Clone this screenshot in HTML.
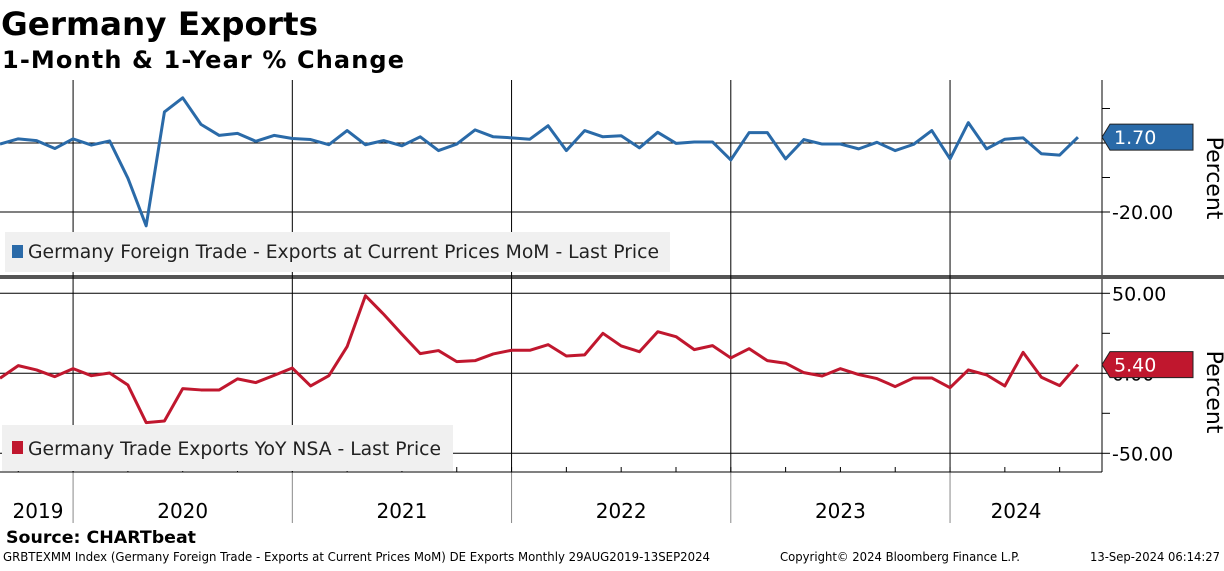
<!DOCTYPE html>
<html><head><meta charset="utf-8"><style>
body{margin:0;background:#fff;width:1224px;height:566px;overflow:hidden;font-family:"Liberation Sans",sans-serif}
svg text{font-family:"DejaVu Sans","Liberation Sans",sans-serif}
</style></head><body>
<svg id="c" width="1224" height="566" xmlns="http://www.w3.org/2000/svg">
<text x="1" y="35" font-size="32" font-weight="bold" fill="#000" textLength="317" lengthAdjust="spacingAndGlyphs">Germany Exports</text>
<text x="2" y="68" font-size="24" font-weight="bold" fill="#000" textLength="402" lengthAdjust="spacing">1-Month &amp; 1-Year % Change</text>
<rect x="0" y="275" width="1224" height="4" fill="#555"/>
<g id="grid"></g>
<rect x="5" y="232" width="665" height="40" fill="#f0f0f0"/>
<rect x="12" y="245" width="11" height="13" fill="#2a6aa8"/>
<text x="28" y="258" font-size="19" fill="#222" textLength="631" lengthAdjust="spacingAndGlyphs">Germany Foreign Trade - Exports at Current Prices MoM - Last Price</text>
<rect x="2" y="425" width="451" height="46" fill="#f0f0f0"/>
<rect x="12" y="441" width="11" height="13" fill="#c0172e"/>
<text x="28" y="455" font-size="19" fill="#222" textLength="413" lengthAdjust="spacingAndGlyphs">Germany Trade Exports YoY NSA - Last Price</text>
<g id="marks"></g>
<text x="6" y="543" font-size="17" font-weight="bold" fill="#000" textLength="190" lengthAdjust="spacingAndGlyphs">Source: CHARTbeat</text>
<text x="3" y="561" font-size="12" fill="#000" textLength="707" lengthAdjust="spacingAndGlyphs">GRBTEXMM Index (Germany Foreign Trade - Exports at Current Prices MoM) DE Exports  Monthly 29AUG2019-13SEP2024</text>
<text x="780" y="561" font-size="12" fill="#000" textLength="240" lengthAdjust="spacingAndGlyphs">Copyright© 2024 Bloomberg Finance L.P.</text>
<text x="1090" y="561" font-size="12" fill="#000" textLength="130" lengthAdjust="spacingAndGlyphs">13-Sep-2024 06:14:27</text>
</svg>
<script>
const momValues=[-0.3,1.2,0.7,-1.6,1.2,-0.6,0.6,-10.2,-24,9.0,13.1,5.4,2.2,2.8,0.5,2.2,1.3,1.0,-0.5,3.6,-0.5,0.7,-0.8,1.8,-2.2,-0.3,3.8,1.8,1.5,1.1,5.0,-2.2,3.6,1.8,2.1,-1.4,3.1,-0.1,0.3,0.3,-4.9,3.0,3.0,-4.6,1.0,-0.3,-0.3,-1.7,0.2,-2.2,-0.4,3.6,-4.6,5.9,-1.7,1.1,1.5,-3.1,-3.5,1.7];
const yoyValues=[-3.1,4.8,2.1,-2.1,2.9,-1.5,0.2,-7.3,-30.8,-29.8,-9.6,-10.4,-10.4,-3.5,-5.8,-1.3,3.3,-7.9,-1.5,16.7,48.5,36.9,24.4,12.3,14.2,7.3,7.9,12.1,14.4,14.4,17.9,10.8,11.5,25,17.1,13.5,26,22.9,14.8,17.3,9.6,15.4,7.9,6.3,0.4,-1.7,2.9,-0.8,-3.3,-8.3,-2.9,-2.9,-9.0,2.1,-1.0,-7.9,13.1,-2.5,-7.7,5.4];
const years=["2019","2020","2021","2022","2023","2024"];
const yearStartIdx=[4,16,28,40,52];
const topTicks=[10,0,-10,-20];
const topTickLabels=["","","","-20.00"];
const botTicks=[50,25,0,-25,-50];
const botTickLabels=["50.00","","0.00","","-50.00"];
const momLast="1.70", yoyLast="5.40";

const NS="http://www.w3.org/2000/svg";
const X0=0, DX=18.27, RIGHT=1102;
const x=i=>X0+i*DX;
const yTop=v=>143-v*3.45;
const yBot=v=>373.3-v*1.6;
const grid=document.getElementById('grid'), marks=document.getElementById('marks');
function mk(tag,attrs,parent){const e=document.createElementNS(NS,tag);for(const k in attrs)e.setAttribute(k,attrs[k]);parent.appendChild(e);return e;}

yearStartIdx.forEach(i=>{
  const l=mk('line',{x1:x(i),x2:x(i),y1:80,y2:472,stroke:'#000','stroke-width':1},grid);
  
  
  const l2=mk('line',{x1:x(i),x2:x(i),y1:472,y2:523,stroke:'#888','stroke-width':1},grid);
  
  
});
[0,-20].forEach(v=>{const l=mk('line',{x1:0,x2:RIGHT,y1:yTop(v),y2:yTop(v),stroke:'#000','stroke-width':1},grid);
  
  });
[50,0,-50].forEach(v=>{const l=mk('line',{x1:0,x2:RIGHT,y1:yBot(v),y2:yBot(v),stroke:'#000','stroke-width':1},grid);
  
  });
mk('line',{x1:RIGHT,x2:RIGHT,y1:80,y2:275,stroke:'#000'},grid);
mk('line',{x1:RIGHT,x2:RIGHT,y1:279,y2:472,stroke:'#000'},grid);
mk('line',{x1:0,x2:RIGHT,y1:472,y2:472,stroke:'#000'},grid);
for(let i=1;i<60;i+=3){const t=mk('line',{x1:x(i),x2:x(i),y1:467,y2:472,stroke:'#000'},grid);
  
  }
topTicks.forEach((v,k)=>{const y=yTop(v);
  mk('line',{x1:RIGHT,x2:RIGHT+8,y1:y,y2:y,stroke:'#000'},grid);
  if(topTickLabels[k]){const t=mk('text',{x:RIGHT+10,y:y+7,'font-size':19,fill:'#000'},grid);t.textContent=topTickLabels[k];
  
  }});
botTicks.forEach((v,k)=>{const y=yBot(v);
  mk('line',{x1:RIGHT,x2:RIGHT+8,y1:y,y2:y,stroke:'#000'},grid);
  if(botTickLabels[k]){const t=mk('text',{x:RIGHT+10,y:y+7,'font-size':19,fill:'#000'},grid);t.textContent=botTickLabels[k];
  
  }});
const bounds=[0,...yearStartIdx.map(x),RIGHT-20];
years.forEach((yr,k)=>{const cx=k===0?38:(bounds[k]+bounds[k+1])/2;
  const t=mk('text',{x:cx,y:518,'font-size':20,'text-anchor':'middle',fill:'#000'},grid);t.textContent=yr;
  
  });
[[1207,178],[1207,392]].forEach(p=>{const t=mk('text',{x:p[0],y:p[1],'font-size':22,'text-anchor':'middle',fill:'#000',transform:`rotate(90 ${p[0]} ${p[1]})`},grid);t.textContent='Percent';
  
  });
const p1=mk('polyline',{points:momValues.map((v,i)=>x(i)+','+yTop(v)).join(' '),fill:'none',stroke:'#2a6aa8','stroke-width':3,'stroke-linejoin':'round'},marks);


const p2=mk('polyline',{points:yoyValues.map((v,i)=>x(i)+','+yBot(v)).join(' '),fill:'none',stroke:'#c0172e','stroke-width':3,'stroke-linejoin':'round'},marks);


function tag(yc,color,label,name){
  const g=mk('g',{},marks);
  
  
  mk('polygon',{points:`${RIGHT},${yc} ${RIGHT+8},${yc-13} 1193,${yc-13} 1193,${yc+13} ${RIGHT+8},${yc+13}`,fill:color,stroke:'#222','stroke-width':1},g);
  const t=mk('text',{x:RIGHT+12,y:yc+7,'font-size':19,fill:'#fff'},g);t.textContent=label;
}
tag(yTop(momValues[59]),'#2a6aa8',momLast,'mom-last-price-tag');
tag(yBot(yoyValues[59]),'#c0172e',yoyLast,'yoy-last-price-tag');
</script>
</body></html>
